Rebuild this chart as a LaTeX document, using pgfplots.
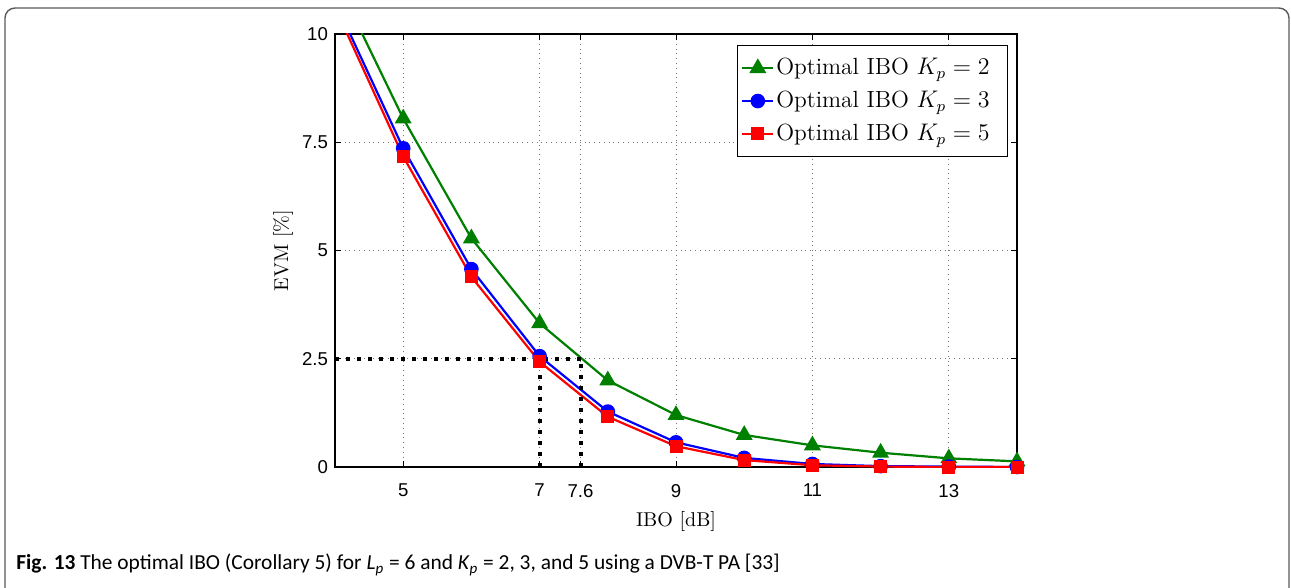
\documentclass[border=0pt]{standalone}
\usepackage{fontspec}
\usepackage{pgfplots}
\pgfplotsset{compat=1.18}
\newfontfamily\tickfont{Liberation Sans}
\newfontfamily\capfont{Carlito}
\definecolor{mgreen}{rgb}{0,0.5,0}
\begin{document}
\begin{tikzpicture}
\begin{scope}[x=0.5pt,y=-0.5pt]
\useasboundingbox (0,0) rectangle (1291,588);
\draw[black!65, line width=0.7pt, rounded corners=5pt] (5,589) -- (5,8) -- (1289,8) -- (1289,589);
\node[anchor=west, inner sep=0pt, font=\capfont\fontsize{10.7}{12}\selectfont] at (16,565) {\textbf{Fig. 13} The optimal IBO (Corollary 5) for \textit{L}\textsubscript{\textit{p}} = 6 and \textit{K}\textsubscript{\textit{p}} = 2, 3, and 5 using a DVB-T PA [33]};
\coordinate (O) at (335,467);
\end{scope}
\begin{axis}[
  at={(O)}, anchor=south west,
  scale only axis, width=341pt, height=216.5pt,
  xmin=4, xmax=14, ymin=0, ymax=10,
  xtick={5,7,7.6,9,11,13}, ytick={0,2.5,5,7.5,10},
  grid=major, major grid style={dotted, black!55, line width=0.5pt},
  tick align=inside, major tick length=3pt,
  axis line style={line width=0.6pt},
  tick style={black, line width=0.5pt},
  ticklabel style={font=\tickfont\fontsize{9.3}{11}\selectfont},
  /pgf/number format/assume math mode=true,
  xticklabel style={yshift=-5pt},
  xlabel={IBO [dB]}, ylabel={EVM [\%]},
  label style={font=\fontsize{11.5}{13}\selectfont},
  every axis x label/.style={at={(axis description cs:0.5,-0.125)}, anchor=center},
  every axis y label/.style={at={(axis description cs:-0.076,0.5)}, rotate=90, anchor=center},
  legend style={at={(0.987,0.975)}, anchor=north east, font=\fontsize{11.7}{13}\selectfont, draw=black, line width=0.6pt, inner xsep=2pt, inner ysep=4.5pt, row sep=2.7pt, nodes={inner xsep=1pt}},
  legend cell align=left,
  legend image code/.code={\draw[#1, mark indices={2}] plot coordinates {(0cm,0cm) (0.27cm,0cm) (0.54cm,0cm)};},
]
\addplot[mgreen, line width=1.1pt, mark=triangle*, mark size=3.8pt, mark indices={1,2,3,4,5,6,7,8,9,10}] coordinates {
(4,11.3) (5,8.05) (6,5.28) (7,3.32) (8,2.0) (9,1.2) (10,0.74) (11,0.5) (12,0.33) (13,0.2) (14,0.13)};
\addlegendentry{Optimal IBO $K_p=2$\hspace*{6pt}}
\addplot[blue, line width=1.1pt, mark=*, mark size=3.1pt, mark indices={1,2,3,4,5,6,7,8,9,10}] coordinates {
(4,10.75) (5,7.36) (6,4.57) (7,2.56) (8,1.28) (9,0.57) (10,0.21) (11,0.07) (12,0.02) (13,0.01) (14,0.0)};
\addlegendentry{Optimal IBO $K_p=3$\hspace*{6pt}}
\addplot[red, line width=1.1pt, mark=square*, mark size=2.7pt, mark indices={1,2,3,4,5,6,7,8,9,10}] coordinates {
(4,10.62) (5,7.17) (6,4.39) (7,2.43) (8,1.16) (9,0.48) (10,0.16) (11,0.04) (12,0.01) (13,0.0) (14,0.0)};
\addlegendentry{Optimal IBO $K_p=5$\hspace*{6pt}}
\addplot[black, line width=2pt, dash pattern=on 2pt off 3.5pt, forget plot] coordinates {(4,2.5) (7.6,2.5)};
\addplot[black, line width=2pt, dash pattern=on 2pt off 3.5pt, forget plot] coordinates {(7,0) (7,2.5)};
\addplot[black, line width=2pt, dash pattern=on 2pt off 3.5pt, forget plot] coordinates {(7.6,0) (7.6,2.5)};
\end{axis}
\end{tikzpicture}
\end{document}
